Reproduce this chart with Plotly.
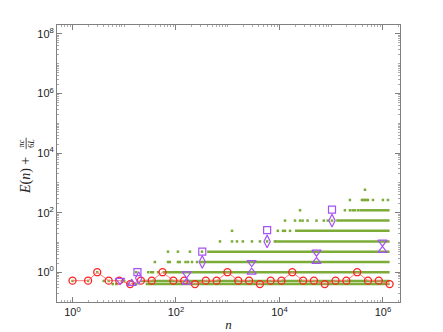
import plotly.graph_objects as go

# sizes n on the Fibonacci sequence, red circles
fib_n = [1, 2, 3, 5, 8, 13, 21, 34, 55, 89, 144, 233, 377, 610, 987, 1597, 2584,
         4181, 6765, 10946, 17711, 28657, 46368, 75025, 121393, 196418, 317811,
         514229, 832040, 1346269]
fib_e = [0.52, 0.52, 1.0, 0.52, 0.52, 0.40, 0.52, 0.52, 1.0, 0.52, 0.52, 0.40,
         0.52, 0.52, 1.0, 0.52, 0.52, 0.40, 0.52, 0.52, 1.0, 0.52, 0.52, 0.40,
         0.52, 0.52, 1.0, 0.52, 0.52, 0.40]

# green levels (bands) with start of the dense part
band_level = [0.51, 0.40, 1.0, 2.2, 4.9, 10.8, 24.5, 54, 120]
band_start = [21, 26, 55, 290, 400, 9000, 20000, 125000, 350000]
band_end = 1346269

# sparse green points before each band becomes dense
sparse_n = [
    [1, 2, 4, 5, 9, 10, 14],
    [6, 7, 12, 15, 17],
    [3, 17, 29, 33, 36, 45],
    [39, 70, 76, 109, 118, 153, 171, 204, 255],
    [70, 109, 186, 318],
    [708, 1210, 1510, 1960, 2940, 4190, 5778, 8150, 8600],
    [1210, 9300, 11700, 12800, 16000],
    [12800, 20000, 25000, 28000, 35000, 52000, 72000, 86000, 103682],
    [25000, 184000, 230000, 260000, 288000, 330000],
    [230000, 393000, 420000, 449000, 480000, 513000, 641000, 1000000, 1250000],
    [449000],
]
sparse_level = [0.51, 0.40, 1.0, 2.2, 4.9, 10.8, 24.5, 54, 120, 266, 588]

# purple markers
sq_n = [18, 322, 5778, 103682]
sq_e = [1.0, 4.9, 26, 127]
dm_n = [19, 322, 5778, 103682]
dm_e = [0.64, 2.2, 10.8, 54]
tdn_n = [8.3, 161, 2900, 52000, 980000]
tdn_e = [0.53, 0.88, 2.1, 4.7, 10.2]
tup_n = [13.9, 161, 2900, 52000, 980000]
tup_e = [0.42, 0.46, 1.0, 2.3, 5.4]

green = "#7dab38"
purple = "#a552f5"
gray = "#808080"

fig = go.Figure()

lx, ly = [], []
for lvl, s in zip(band_level, band_start):
    lx += [s, band_end, None]
    ly += [lvl, lvl, None]
fig.add_trace(go.Scatter(x=lx, y=ly, mode="lines",
                         line=dict(color=green, width=2.5)))

gx, gy = [], []
for ns, lvl in zip(sparse_n, sparse_level):
    gx += ns
    gy += [lvl] * len(ns)
fig.add_trace(go.Scatter(x=gx, y=gy, mode="markers",
                         marker=dict(symbol="square", size=2.5, color=green)))

fig.add_trace(go.Scatter(x=fib_n, y=fib_e, mode="lines+markers",
                         line=dict(color="#ff7a7a", width=1),
                         marker=dict(symbol="circle-open", size=7,
                                     color="#ff2020", line=dict(width=1.3))))

for xs, ys, sym, sz in [(sq_n, sq_e, "square-open", 7),
                        (dm_n, dm_e, "diamond-tall-open", 9),
                        (tdn_n, tdn_e, "triangle-down-open", 8),
                        (tup_n, tup_e, "triangle-up-open", 8)]:
    fig.add_trace(go.Scatter(x=xs, y=ys, mode="markers",
                             marker=dict(symbol=sym, size=sz, color=purple,
                                         line=dict(width=1.2))))

tickfont = dict(family="Liberation Sans", size=11, color="#222")
axis = dict(type="log", showline=True, linecolor=gray, linewidth=1, mirror="ticks",
            ticks="inside", ticklen=5, tickcolor=gray, showgrid=False, zeroline=False,
            tickfont=tickfont, automargin=False,
            minor=dict(ticks="inside", ticklen=2, tickcolor="#aaaaaa", dtick="D1", showgrid=False))

# the page body adds 8px on the left and top, so the figure is 8px smaller
fig.update_layout(
    width=435, height=324,
    margin=dict(l=49, r=43, t=17, b=30),
    plot_bgcolor="white", paper_bgcolor="white",
    showlegend=False,
    xaxis=dict(axis, range=[-0.30, 6.33],
               tickvals=[1, 100, 1e4, 1e6],
               ticktext=["10<sup>0</sup>", "10<sup>2</sup>", "10<sup>4</sup>", "10<sup>6</sup>"],
               title=dict(text="<i>n</i>", standoff=4,
                          font=dict(family="Liberation Serif", size=13, color="#222"))),
    yaxis=dict(axis, range=[-1, 8.3],
               tickvals=[1, 100, 1e4, 1e6, 1e8],
               ticktext=["10<sup>0</sup>", "10<sup>2</sup>", "10<sup>4</sup>",
                         "10<sup>6</sup>", "10<sup>8</sup>"]),
)

# y title E(n) + pi c / 6L, written with a stacked fraction
title_font = dict(family="Liberation Serif", size=14, color="#222")
fig.add_annotation(text="<i>E</i>(<i>n</i>) +", xref="paper", yref="paper",
                   x=-0.090, y=0.455, textangle=-90, showarrow=False,
                   xanchor="center", yanchor="middle", font=title_font)
fig.add_annotation(text="π<i>c</i><br>6<i>L</i>", xref="paper", yref="paper",
                   x=-0.090, y=0.572, textangle=-90, showarrow=False,
                   xanchor="center", yanchor="middle",
                   font=dict(family="Liberation Serif", size=8, color="#222"))
fig.add_shape(type="line", xref="paper", yref="paper",
              x0=-0.090, x1=-0.090, y0=0.552, y1=0.593,
              line=dict(color="#222", width=0.8))

fig.write_html("out.html")
